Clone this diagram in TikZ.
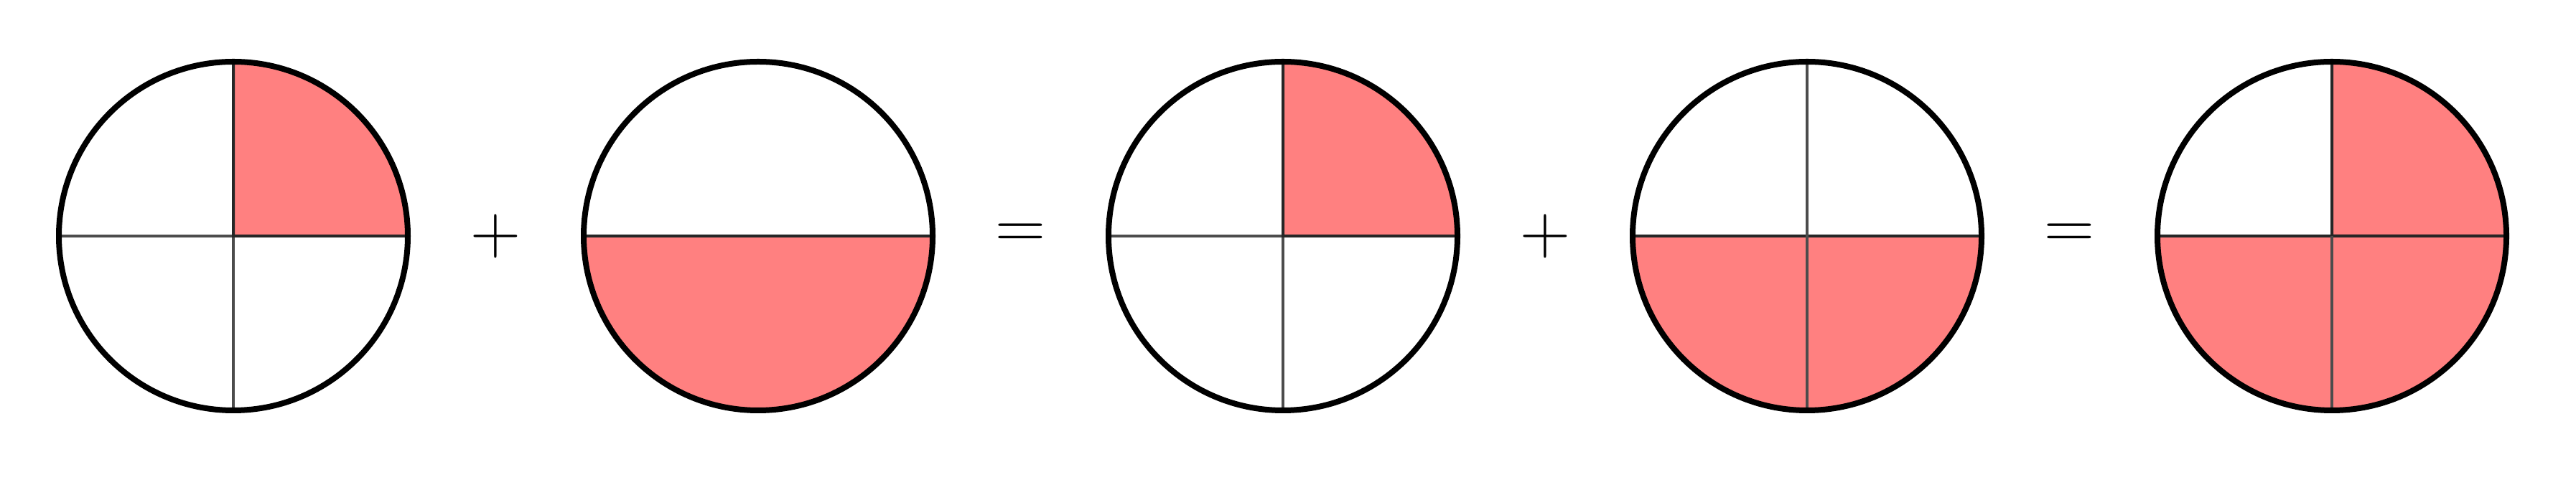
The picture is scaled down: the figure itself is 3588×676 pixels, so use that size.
\documentclass[tikz,border=0pt]{standalone}
\usepackage{fontspec}
\definecolor{pinkfill}{RGB}{255,128,128}
\tikzset{
  rim/.style={line width=8pt, draw=black},
  divider/.style={line width=3.5pt, draw=black!70},
  part/.style={fill=pinkfill, draw=black!85, line width=4pt, line join=miter},
  opsym/.style={font=\fontsize{97}{100}\selectfont, inner sep=0pt},
}
\begin{document}
\begin{tikzpicture}[x=1pt,y=1pt]
\useasboundingbox (0,0) rectangle (3588,676);
\def\R{243}
\coordinate (c1) at (325,347);
\coordinate (c2) at (1056,347);
\coordinate (c3) at (1787,347);
\coordinate (c4) at (2517,347);
\coordinate (c5) at (3248,347);

% circle 1: one quarter
\draw[divider] (c1) ++(-\R,0) -- ++(2*\R,0);
\draw[divider] (c1) ++(0,-\R) -- ++(0,2*\R);
\draw[part] (c1) -- ++(0,\R) arc[start angle=90, end angle=0, radius=\R] -- cycle;
\draw[rim] (c1) circle[radius=\R];

% circle 2: one half
\draw[divider] (c2) ++(-\R,0) -- ++(2*\R,0);
\draw[part] (c2) -- ++(\R,0) arc[start angle=0, end angle=-180, radius=\R] -- cycle;
\draw[rim] (c2) circle[radius=\R];

% circle 3: one quarter
\draw[divider] (c3) ++(-\R,0) -- ++(2*\R,0);
\draw[divider] (c3) ++(0,-\R) -- ++(0,2*\R);
\draw[part] (c3) -- ++(0,\R) arc[start angle=90, end angle=0, radius=\R] -- cycle;
\draw[rim] (c3) circle[radius=\R];

% circle 4: two quarters
\draw[divider] (c4) ++(-\R,0) -- ++(2*\R,0);
\draw[part] (c4) -- ++(\R,0) arc[start angle=0, end angle=-180, radius=\R] -- cycle;
\draw[divider] (c4) ++(0,-\R) -- ++(0,2*\R);
\draw[rim] (c4) circle[radius=\R];

% circle 5: three quarters
\draw[divider] (c5) ++(-\R,0) -- ++(2*\R,0);
\draw[divider] (c5) ++(0,-\R) -- ++(0,2*\R);
\draw[part] (c5) -- ++(0,\R) arc[start angle=90, end angle=0, radius=\R] -- cycle;
\draw[part] (c5) -- ++(\R,0) arc[start angle=0, end angle=-180, radius=\R] -- cycle;
\draw[divider] (c5) ++(0,-\R) -- ++(0,\R);
\draw[rim] (c5) circle[radius=\R];

% operators
\node[opsym] (plus1) at (690,347) {+};
\node[opsym] (eq1) at (1421,347) {=};
\node[opsym] (plus2) at (2152,347) {+};
\node[opsym] (eq2) at (2882,347) {=};
\end{tikzpicture}
\end{document}
